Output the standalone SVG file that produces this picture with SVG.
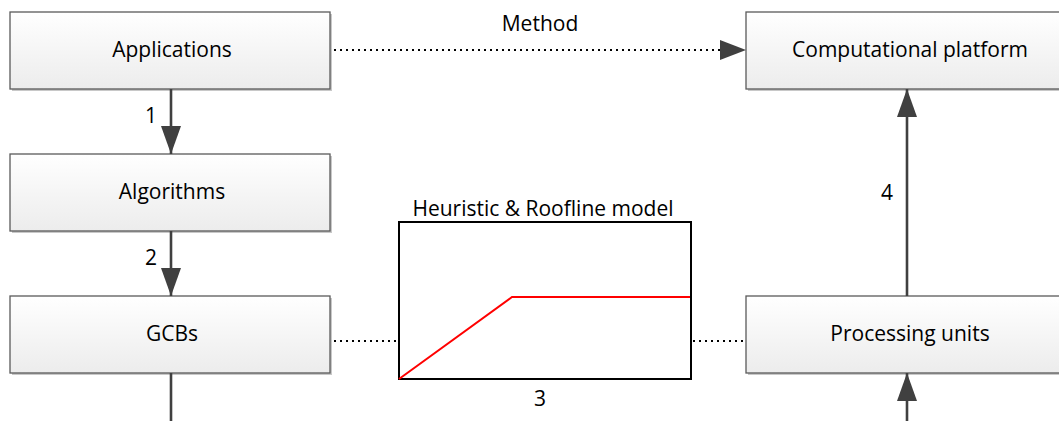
<svg xmlns="http://www.w3.org/2000/svg" width="1059" height="421" viewBox="0 0 1059 421">
<style>
.box{fill:url(#g);stroke:#5a5a5a;stroke-width:1.3}
.sh{fill:#c8c8c8}
.t{font-family:"Open Sans","Noto Sans",sans-serif;font-size:21px;fill:#000;text-anchor:middle}
.c{stroke:#404040;stroke-width:2.6;fill:none}
.d{stroke:#000;stroke-width:2;stroke-dasharray:2 4;fill:none}
</style>
<defs>
<linearGradient id="g" x1="0" y1="0" x2="0" y2="1"><stop offset="0" stop-color="#ffffff"/><stop offset="1" stop-color="#ececec"/></linearGradient>
<marker id="b" viewBox="0 0 28 20" refX="28" refY="10" markerWidth="28" markerHeight="20" markerUnits="userSpaceOnUse" orient="auto"><path d="M0,0 L28,10 L0,20 Z" fill="#404040"/></marker>
</defs>
<g id="applications"><rect class="sh" x="12" y="14" width="320" height="77"/><rect class="box" x="10" y="12" width="320" height="77"/><text class="t" x="172" y="57">Applications</text></g>
<g id="algorithms"><rect class="sh" x="12" y="156" width="320" height="77"/><rect class="box" x="10" y="154" width="320" height="77"/><text class="t" x="172" y="199">Algorithms</text></g>
<g id="gcbs"><rect class="sh" x="12" y="298" width="320" height="77"/><rect class="box" x="10" y="296" width="320" height="77"/><text class="t" x="172" y="341">GCBs</text></g>
<g id="computational-platform"><rect class="sh" x="748" y="14" width="320" height="77"/><rect class="box" x="746" y="12" width="320" height="77"/><text class="t" x="910" y="57">Computational platform</text></g>
<g id="processing-units"><rect class="sh" x="748" y="298" width="320" height="77"/><rect class="box" x="746" y="296" width="320" height="77"/><text class="t" x="910" y="341">Processing units</text></g>
<g id="roofline">
<rect x="399" y="222" width="292" height="157" fill="#fff" stroke="#000" stroke-width="2"/>
<polyline points="399,379 512,297 690,297" fill="none" stroke="#ff0000" stroke-width="2"/>
<text class="t" x="543" y="216">Heuristic &amp; Roofline model</text>
</g>
<g id="connectors">
<line class="c" x1="171" y1="89" x2="171" y2="154" marker-end="url(#b)"/>
<line class="c" x1="171" y1="231" x2="171" y2="296" marker-end="url(#b)"/>
<line class="c" x1="171" y1="373" x2="171" y2="421"/>
<line class="c" x1="907" y1="296" x2="907" y2="89" marker-end="url(#b)"/>
<line class="c" x1="907" y1="421" x2="907" y2="373" marker-end="url(#b)"/>
<line class="d" x1="334" y1="50" x2="720" y2="50"/>
<path d="M720,40 L746,50 L720,60 Z" fill="#404040"/>
<line class="d" x1="334" y1="341" x2="398" y2="341"/>
<line class="d" x1="693" y1="341" x2="745" y2="341"/>
<text class="t" x="151" y="123">1</text>
<text class="t" x="151" y="265">2</text>
<text class="t" x="540" y="406">3</text>
<text class="t" x="887" y="200">4</text>
<text class="t" x="540" y="31">Method</text>
</g>
</svg>
